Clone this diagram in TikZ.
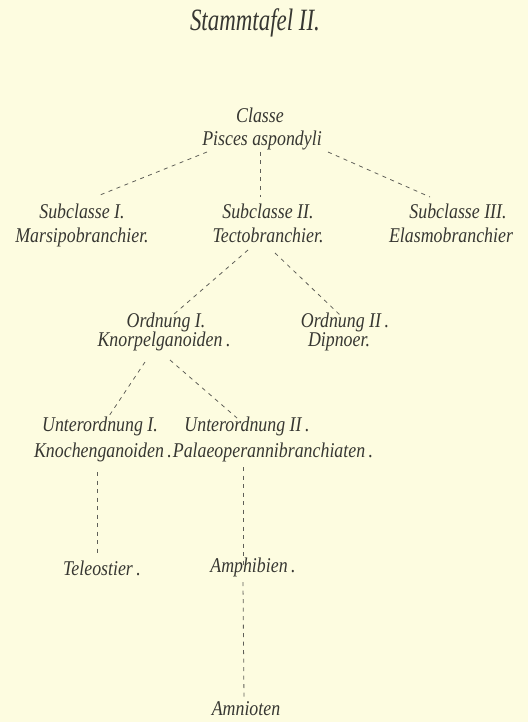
\documentclass[tikz,border=0pt]{standalone}
\usepackage{fontspec}
\newfontfamily\engr{Liberation Serif}[FakeStretch=0.85]
\newfontfamily\engrtitle{Liberation Serif}[FakeStretch=0.74]
\definecolor{paper}{RGB}{253,252,224}
\definecolor{ink}{RGB}{55,55,50}
\definecolor{lineink}{RGB}{95,95,88}
\tikzset{
  lbl/.style={anchor=base, inner sep=0pt, text=ink, font=\engr\itshape\fontsize{21}{21}\selectfont},
  ttl/.style={anchor=base, inner sep=0pt, text=ink, font=\engrtitle\itshape\fontsize{31}{31}\selectfont},
  link/.style={draw=lineink, line width=0.8pt, dash pattern=on 4pt off 4.5pt}
}
\begin{document}
\begin{tikzpicture}[x=1pt,y=-1pt]
\fill[paper] (0,0) rectangle (528,722);
\useasboundingbox (0,0) rectangle (528,722);
% title
\node[ttl] (title) at (255,31) {Stammtafel II.};
% class
\node[lbl] (classe) at (260,123) {Classe};
\node[lbl] (pisces) at (262,146) {Pisces aspondyli};
% subclasses
\node[lbl] (sub1) at (82,218) {Subclasse I.};
\node[lbl] (marsi) at (82,242) {Marsipobranchier.};
\node[lbl] (sub2) at (268,218) {Subclasse II.};
\node[lbl] (tecto) at (268,242) {Tectobranchier.};
\node[lbl] (sub3) at (458,218) {Subclasse III.};
\node[lbl] (elasmo) at (451,242) {Elasmobranchier};
% orders
\node[lbl] (ord1) at (166,327) {Ordnung I.};
\node[lbl] (knorpel) at (164,346) {Knorpelganoiden\,.};
\node[lbl] (ord2) at (345,327) {Ordnung II\,.};
\node[lbl] (dipnoer) at (339,346) {Dipnoer.};
% suborders
\node[lbl] (uo1) at (100,431) {Unterordnung I.};
\node[lbl] (knochen) at (103,457) {Knochenganoiden\,.};
\node[lbl] (uo2) at (247,431) {Unterordnung II\,.};
\node[lbl] (palaeo) at (273,457) {Palaeoperannibranchiaten\,.};
% leaves
\node[lbl] (teleo) at (102,575) {Teleostier\,.};
\node[lbl] (amphi) at (253,572) {Amphibien\,.};
\node[lbl] (amnio) at (246,715) {Amnioten};
% connectors
\draw[link] ([shift={(-55,6)}]pisces.base) -- ([shift={(18,-23)}]sub1.base);
\draw[link] ([shift={(-2,6)}]pisces.base) -- ([shift={(-8,-21)}]sub2.base);
\draw[link] ([shift={(66,6)}]pisces.base) -- ([shift={(-28,-21)}]sub3.base);
\draw[link] ([shift={(-20,8)}]tecto.base) -- ([shift={(7,-12)}]ord1.base);
\draw[link] ([shift={(7,11)}]tecto.base) -- ([shift={(-5,-12)}]ord2.base);
\draw[link] ([shift={(-19,16)}]knorpel.base) -- ([shift={(9,-15)}]uo1.base);
\draw[link] ([shift={(6,14)}]knorpel.base) -- ([shift={(-10,-13)}]uo2.base);
\draw[link] ([shift={(-6,15)}]knochen.base) -- ([shift={(-5,-19)}]teleo.base);
\draw[link] ([shift={(-30,10)}]palaeo.base) -- ([shift={(-10,-6)}]amphi.base);
\draw[link] ([shift={(-10,10)}]amphi.base) -- ([shift={(-2,-15)}]amnio.base);
\end{tikzpicture}
\end{document}
